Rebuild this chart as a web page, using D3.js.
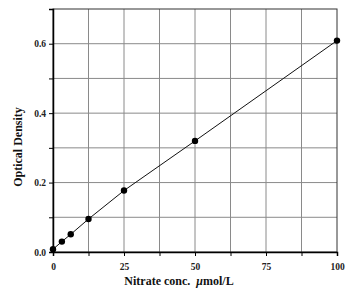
<!DOCTYPE html>
<html>
<head>
<meta charset="utf-8">
<script src="https://cdn.jsdelivr.net/npm/d3@7"></script>
<style>
  body { margin: 0; background: #fff; }
  text { font-family: "Liberation Serif", "DejaVu Serif", serif; font-weight: bold; }
</style>
</head>
<body>
<svg id="chart" width="347" height="300"></svg>
<script>
// data
const concentration = [0, 3.125, 6.25, 12.5, 25, 50, 100];
const density = [0.008, 0.030, 0.051, 0.095, 0.177, 0.320, 0.609];
const xTickLabels = [0, 25, 50, 75, 100];
const yTickLabels = [0.0, 0.2, 0.4, 0.6];

const margin = { top: 9, right: 10, bottom: 48, left: 53 };
const width = 347 - margin.left - margin.right;
const height = 300 - margin.top - margin.bottom;

const svg = d3.select('#chart');
const g = svg.append('g').attr('transform', `translate(${margin.left},${margin.top})`);

const x = d3.scaleLinear().domain([0, 100]).range([0, width]);
const y = d3.scaleLinear().domain([0, 0.7]).range([height, 0]);

// grid
const xGrid = d3.range(12.5, 100, 12.5);
const yGrid = d3.range(0.1, 0.7, 0.1);
g.selectAll('.vgrid').data(xGrid).enter().append('line')
  .attr('x1', d => x(d)).attr('x2', d => x(d))
  .attr('y1', 0).attr('y2', height)
  .attr('stroke', '#8a8a8a').attr('stroke-width', 1);
g.selectAll('.hgrid').data(yGrid).enter().append('line')
  .attr('y1', d => y(d)).attr('y2', d => y(d))
  .attr('x1', 0).attr('x2', width)
  .attr('stroke', '#8a8a8a').attr('stroke-width', 1);

// frame
g.append('rect').attr('width', width).attr('height', height)
  .attr('fill', 'none').attr('stroke', '#333').attr('stroke-width', 1);

// axes
const xAxis = g.append('g').attr('transform', `translate(0,${height})`)
  .call(d3.axisBottom(x).tickValues(d3.range(0, 100.1, 12.5)).tickSize(4)
    .tickFormat(d => xTickLabels.includes(d) ? d : ''));
const yAxis = g.append('g')
  .call(d3.axisLeft(y).tickValues(d3.range(0, 0.71, 0.1)).tickSize(4)
    .tickFormat(d => yTickLabels.some(v => Math.abs(v - d) < 1e-6) ? d3.format('.1f')(d) : ''));
[xAxis, yAxis].forEach(a => {
  a.select('.domain').attr('stroke', '#000').attr('stroke-width', 1.5);
  a.selectAll('.tick line').attr('stroke', '#000');
  a.selectAll('text').attr('font-size', 9.5).attr('fill', '#222')
    .attr('font-family', '"Liberation Serif", serif').attr('font-weight', 'bold');
});
xAxis.selectAll('text').attr('dy', '1.2em');

// line and points
const pts = concentration.map((c, i) => [c, density[i]]);
g.append('path').datum(pts)
  .attr('fill', 'none').attr('stroke', '#111').attr('stroke-width', 1)
  .attr('d', d3.line().x(d => x(d[0])).y(d => y(d[1])));
g.selectAll('.pt').data(pts).enter().append('circle')
  .attr('cx', d => x(d[0])).attr('cy', d => y(d[1])).attr('r', 3.2)
  .attr('fill', '#000');

// titles
const xt = svg.append('text')
  .attr('x', 179).attr('y', 285)
  .attr('text-anchor', 'middle').attr('font-size', 12).attr('fill', '#111');
xt.append('tspan').text('Nitrate conc.\u00a0\u00a0');
xt.append('tspan').attr('font-style', 'italic').text('\u03bc');
xt.append('tspan').text('mol/L');

svg.append('text')
  .attr('transform', 'translate(22,147) rotate(-90)')
  .attr('text-anchor', 'middle').attr('font-size', 12).attr('fill', '#111')
  .text('Optical Density');
</script>
</body>
</html>
